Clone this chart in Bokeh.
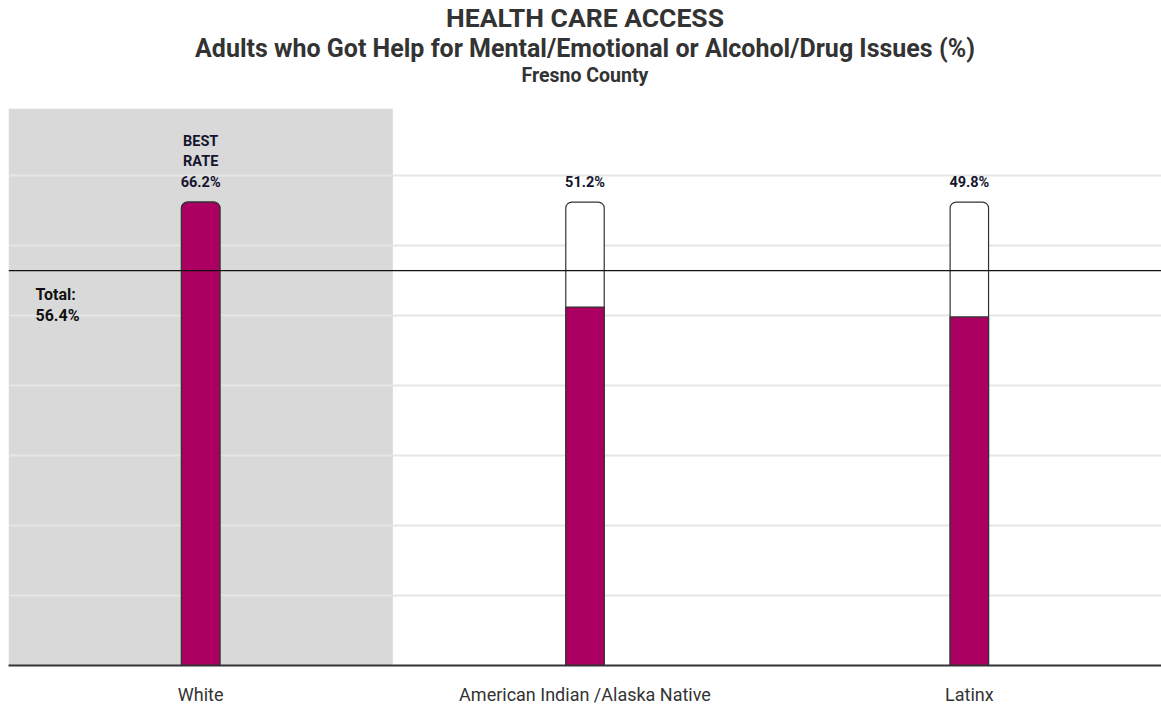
from bokeh.plotting import figure
from bokeh.models import Range1d, FactorRange, Span, Label, Title, SingleIntervalTicker, ColumnDataSource
from bokeh.core.properties import value
from bokeh.embed import file_html
from bokeh.resources import INLINE

title = "HEALTH CARE ACCESS"
subtitle = "Adults who Got Help for Mental/Emotional or Alcohol/Drug Issues (%)"
location = "Fresno County"
categories = ["White", "American Indian /Alaska Native", "Latinx"]
rates = [66.2, 51.2, 49.8]
total_rate = 56.4
best_label = "BEST\nRATE\n"

best = max(rates)
FONT = value("Roboto")
W, H = 1161, 707
LEFT = 8
Y_END = 79.57

p = figure(x_range=FactorRange(*categories, range_padding=0), y_range=Range1d(0, Y_END),
           width=W, height=H, output_backend="svg", toolbar_location=None,
           min_border_left=LEFT, min_border_right=0, min_border_top=0, min_border_bottom=0)
p.outline_line_color = None
p.background_fill_color = "white"
p.title = None

# titles: first added sits closest to the plot; a blank one keeps a gap above the plot
p.add_layout(Title(text=" ", text_font_size="10px", standoff=8.5), "above")
p.add_layout(Title(text=location, align="center", text_font_size="19.5px", text_font="Roboto",
                   text_color="#333333", text_font_style="bold", standoff=-1), "above")
p.add_layout(Title(text=subtitle, align="center", text_font_size="25px", text_font="Roboto",
                   text_color="#333333", text_font_style="bold", standoff=0), "above")
p.add_layout(Title(text=title, align="center", text_font_size="26.5px", text_font="Roboto",
                   text_color="#333333", text_font_style="bold", standoff=-2.5), "above")

# best-rate band
best_cat = [c for c, r in zip(categories, rates) if r == best]
p.vbar(x=best_cat, top=[Y_END], bottom=0, width=1.0, fill_color="#d9d9d9",
       line_color=None, level="image")

# grid
p.yaxis.visible = False
p.ygrid.ticker = SingleIntervalTicker(interval=10)
p.ygrid.grid_line_color = "#e6e6e6"
p.ygrid.grid_line_width = 2
p.xgrid.grid_line_color = None

# background bars to best
p.vbar(x=categories, top=[best] * len(categories), width=0.1, fill_color="white",
       line_color="#333333", line_width=1.2, border_radius=[6, 6, 0, 0])

src_best = ColumnDataSource(dict(x=[c for c, r in zip(categories, rates) if r == best],
                                 top=[r for r in rates if r == best]))
src_rest = ColumnDataSource(dict(x=[c for c, r in zip(categories, rates) if r != best],
                                 top=[r for r in rates if r != best]))
p.vbar(x="x", top="top", source=src_best, width=0.1, fill_color="#AB0062",
       line_color="#333333", line_width=1.2, border_radius=[6, 6, 0, 0])
p.vbar(x="x", top="top", source=src_rest, width=0.1, fill_color="#AB0062",
       line_color="#333333", line_width=1.2)

# total line
p.add_layout(Span(location=total_rate, dimension="width", line_color="#111111", line_width=1.3))
p.add_layout(Label(x=27, x_units="screen", y=total_rate, y_offset=-14, text=f"Total:\n{total_rate}%",
                   text_baseline="top", text_font="Roboto", text_font_size="16px",
                   text_font_style="bold", text_color="#111111", text_line_height=1.1))

labels = [(best_label if r == best else "") + f"{r}%" for r in rates]
p.text(x=categories, y=[best] * len(categories), text=labels, y_offset=-11,
       text_align="center", text_baseline="bottom", text_font=FONT, text_font_size="14.5px",
       text_font_style="bold", text_color="#15152e", text_line_height=1.22)

# x axis
ax = p.xaxis[0]
ax.axis_line_color = "#333333"
ax.axis_line_width = 2
ax.major_tick_line_color = None
ax.minor_tick_line_color = None
ax.major_label_text_font = "Roboto"
ax.major_label_text_font_size = "18px"
ax.major_label_text_color = "#333333"
ax.major_label_standoff = 12

open("out.html", "w").write(file_html(p, INLINE))
